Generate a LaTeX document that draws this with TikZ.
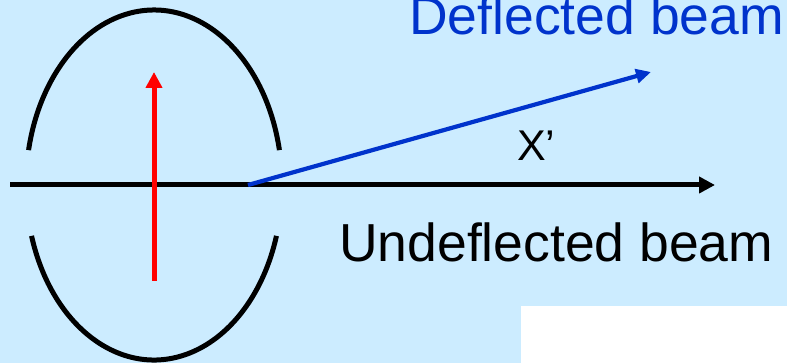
\documentclass[tikz,border=0pt]{standalone}
\usepackage{fontspec}
\setmainfont{Liberation Sans}
\usepackage{xcolor}
\usetikzlibrary{arrows.meta}
\definecolor{skyback}{HTML}{CCECFF}
\definecolor{beamblue}{HTML}{0033CC}
\definecolor{fieldred}{HTML}{FF0000}

\begin{document}
\begin{tikzpicture}[x=1pt, y=1pt,
    lensarc/.style={draw=black, line width=5pt},
    beamline/.style={line width=5pt, -{Triangle[length=16pt,width=16pt]}},
    lbl/.style={inner sep=0pt, anchor=base west}]
  \fill[skyback] (0,0) rectangle (787,-363);
  \useasboundingbox (0,0) rectangle (787,-363);
  \fill[white] (521,-306) rectangle (787,-363);

  % lens pole pieces
  \coordinate (lens) at (154,-185);
  \draw[lensarc] (lens) ++(11.5:128 and 175) arc[start angle=11.5, end angle=168.5, x radius=128, y radius=175];
  \draw[lensarc] (lens) ++(196.9:128 and 175) arc[start angle=196.9, end angle=343.1, x radius=128, y radius=175];

  % beams
  \coordinate (src) at (10,-185);
  \coordinate (straight) at (715,-185);
  \coordinate (kink) at (248,-185);
  \coordinate (bent) at (651,-72);
  \draw[beamline, draw=black, fill=black] (src) -- (straight);
  \draw[line width=4.2pt, beamblue, -{Triangle[length=15pt,width=14pt]}] (kink) -- (bent);

  % field
  \coordinate (fieldlow) at (154,-281);
  \coordinate (fieldhigh) at (154,-72);
  \draw[beamline, fieldred] (fieldlow) -- (fieldhigh);

  \node[lbl, text=beamblue, font=\fontsize{53.5}{60}\selectfont] (deflabel) at (409,-35) {Deflected beam};
  \node[lbl, font=\fontsize{43}{50}\selectfont] (xlabel) at (517,-161) {X’};
  \node[lbl, font=\fontsize{53.5}{60}\selectfont] (undeflabel) at (339,-262) {Undeflected beam};
\end{tikzpicture}
\end{document}
